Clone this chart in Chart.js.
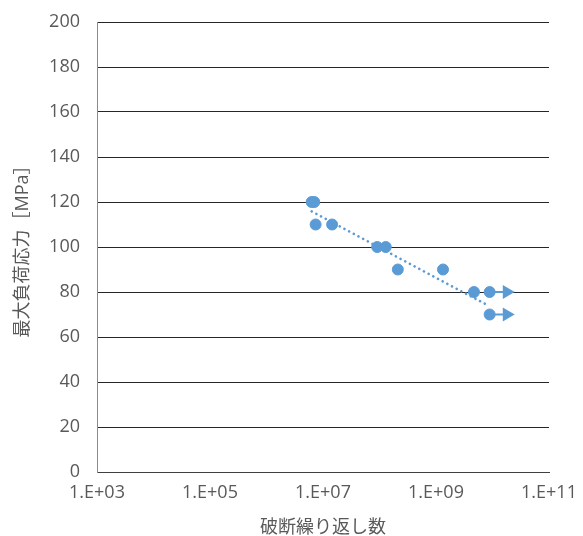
<!DOCTYPE html>
<html>
<head>
<meta charset="utf-8">
<script src="https://cdn.jsdelivr.net/npm/chart.js@4/dist/chart.umd.min.js"></script>
<style>
  html, body { margin: 0; padding: 0; background: #fff; }
  #wrap { width: 583px; height: 536px; }
</style>
</head>
<body>
<div id="wrap"><canvas id="graph" width="583" height="536"></canvas></div>
<script>
// fatigue test points (cycles to failure vs max stress)
const cycles = [6.3e6, 7.0e6, 7.4e6, 1.45e7, 9.1e7, 1.29e8, 2.11e8, 1.33e9, 4.7e9, 8.9e9, 8.9e9];
const stress = [120, 120, 110, 110, 100, 100, 90, 90, 80, 80, 70];

// run-outs (no failure), drawn with an arrow to the right
const runoutStart = 8.9e9;
const runoutEnd = 1.79e10;
const runoutStress = [80, 70];

// log trend line end points
const trendX = [6.3e6, 7.4e9];
const trendY = [115.8, 74.7];

const xTicks = [1e3, 1e5, 1e7, 1e9, 1e11];
const yTicks = [0, 20, 40, 60, 80, 100, 120, 140, 160, 180, 200];

const BLUE = "#5B9BD5";
const TXT = "#595959";
const FONT = "'Open Sans', 'Noto Sans CJK JP', sans-serif";

const pts = cycles.map((c, i) => ({ x: c, y: stress[i] }));

const arrows = runoutStress.map(s => ({
    type: "scatter",
    data: [{ x: runoutStart, y: s }, { x: runoutEnd, y: s }],
    showLine: true,
    borderColor: BLUE,
    borderWidth: 2,
    backgroundColor: BLUE,
    pointStyle: "triangle",
    rotation: 90,
    pointRadius: [0, 6],
    pointHoverRadius: [0, 6],
    order: 2
}));

const IDG = document.getElementById("graph").getContext("2d");
const myChart = new Chart(IDG, {
    type: "scatter",
    data: {
        datasets: [
            {
                data: pts,
                backgroundColor: BLUE,
                borderColor: BLUE,
                pointRadius: 5.5,
                pointHoverRadius: 5.5,
                order: 1
            },
            ...arrows,
            {
                data: trendX.map((x, i) => ({ x: x, y: trendY[i] })),
                showLine: true,
                borderColor: BLUE,
                borderWidth: 2.6,
                borderDash: [0.1, 5.2],
                borderCapStyle: "round",
                pointRadius: 0,
                order: 3
            }
        ]
    },
    options: {
        responsive: false,
        animation: false,
        layout: { padding: { top: 22, right: 34, left: 0, bottom: 0 } },
        plugins: {
            legend: { display: false },
            tooltip: { enabled: false }
        },
        scales: {
            x: {
                type: "logarithmic",
                min: 1e3,
                max: 1e11,
                afterBuildTicks: s => { s.ticks = xTicks.map(v => ({ value: v })); },
                afterFit: s => { s.height = 64; s.paddingLeft = 0; s.paddingRight = 0; },
                grid: { display: false, drawTicks: false },
                border: { display: true, color: "#404040", width: 1 },
                ticks: {
                    padding: 10,
                    maxRotation: 0,
                    autoSkip: false,
                    color: TXT,
                    font: { family: FONT, size: 18 },
                    callback: v => "1.E+" + String(Math.round(Math.log10(v))).padStart(2, "0")
                },
                title: {
                    display: true,
                    text: "破断繰り返し数",
                    color: TXT,
                    font: { family: FONT, size: 18 },
                    padding: { top: 0, bottom: -3 }
                }
            },
            y: {
                min: 0,
                max: 200,
                afterBuildTicks: s => { s.ticks = yTicks.map(v => ({ value: v })); },
                afterFit: s => { s.width = 97; s.paddingTop = 0; s.paddingBottom = 0; },
                grid: { color: "#262626", lineWidth: 1, drawTicks: false },
                border: { display: true, color: "#8c8c8c", width: 1 },
                ticks: {
                    padding: 17,
                    color: TXT,
                    font: { family: FONT, size: 18 }
                },
                title: {
                    display: true,
                    text: "最大負荷応力［MPa］",
                    color: TXT,
                    font: { family: FONT, size: 18 },
                    padding: { top: 12, bottom: 0 }
                }
            }
        }
    }
});
</script>
</body>
</html>
